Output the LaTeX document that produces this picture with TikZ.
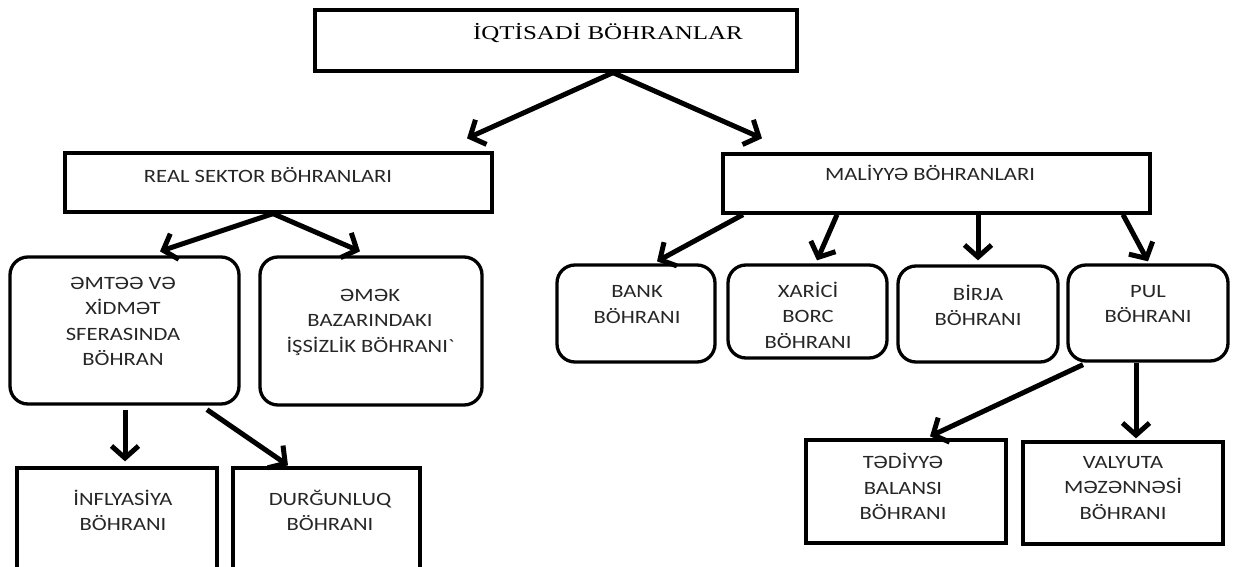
\documentclass[tikz,border=0pt]{standalone}
\usepackage{fontspec}
\setmainfont[FakeStretch=1.2]{Carlito}
\newfontfamily\titlefont[FakeStretch=1.28]{Liberation Serif}
\usetikzlibrary{arrows.meta}
\begin{document}
\begin{tikzpicture}[x=1pt,y=-1pt,
  box/.style={draw, line width=3.3pt, inner sep=0pt},
  rbox/.style={box, rounded corners=18pt},
  txt/.style={align=center, font=\fontsize{18.8}{25.5}\selectfont, inner sep=0pt, text=black!85},
  arr/.style={line width=5pt, -{Straight Barb[length=12pt,width=27pt]}}]
\useasboundingbox (0,0) rectangle (1233,567);
\clip (0,0) rectangle (1233,567);
% boxes
\node[box, minimum width=482pt, minimum height=61pt] (top) at (556,40.5) {};
\node[box, minimum width=427pt, minimum height=59pt] (real) at (278.5,182.5) {};
\node[box, minimum width=427pt, minimum height=59pt] (mal) at (936.5,183.5) {};
\node[rbox, minimum width=229pt, minimum height=147pt] (emtee) at (124.5,330.5) {};
\node[rbox, minimum width=222pt, minimum height=148pt] (emek) at (371,331) {};
\node[rbox, minimum width=158pt, minimum height=97pt] (bank) at (636,313.5) {};
\node[rbox, minimum width=159pt, minimum height=93pt] (xarici) at (807.5,311.5) {};
\node[rbox, minimum width=160pt, minimum height=96pt] (birja) at (978,314) {};
\node[rbox, minimum width=160pt, minimum height=96pt] (pul) at (1148,313) {};
\node[box, minimum width=200pt, minimum height=122pt] (infl) at (117,529) {};
\node[box, minimum width=187pt, minimum height=122pt] (durg) at (326.5,529) {};
\node[box, minimum width=200pt, minimum height=103pt] (ted) at (906,491.5) {};
\node[box, minimum width=200pt, minimum height=102pt] (val) at (1123,493) {};
% texts
\node[inner sep=0pt, font=\titlefont\fontsize{19.5}{22}\selectfont] (topt) at (608,33) {İQTİSADİ BÖHRANLAR};
\node[txt] (realt) at (268,175) {REAL SEKTOR BÖHRANLARI};
\node[txt] (malt) at (930,173) {MALİYYƏ BÖHRANLARI};
\node[txt] (emteet) at (123,321.5) {ƏMTƏƏ VƏ\\XİDMƏT\\SFERASINDA\\BÖHRAN};
\node[txt] (emekt) at (370,322) {ƏMƏK\\BAZARINDAKI\\İŞSİZLİK BÖHRANI\textasciigrave};
\node[txt] (bankt) at (637,304.5) {BANK\\BÖHRANI};
\node[txt] (xarit) at (808,315) {XARİCİ\\BORC\\BÖHRANI};
\node[txt] (birt) at (978,305.5) {BİRJA\\BÖHRANI};
\node[txt] (pult) at (1148,304) {PUL\\BÖHRANI};
\node[txt] (inflt) at (123,510.5) {İNFLYASİYA\\BÖHRANI};
\node[txt] (durgt) at (330,510.5) {DURĞUNLUQ\\BÖHRANI};
\node[txt] (tedt) at (903,486.5) {TƏDİYYƏ\\BALANSI\\BÖHRANI};
\node[txt] (valt) at (1123,488) {VALYUTA\\MƏZƏNNƏSİ\\BÖHRANI};
% arrows
\draw[arr] ([xshift=57pt]top.south) -- ([xshift=188.5pt,yshift=13pt]real.north);
\draw[arr] ([xshift=57pt]top.south) -- ([xshift=-174.5pt,yshift=14pt]mal.north);
\draw[arr] ([xshift=-5.5pt]real.south) -- ([xshift=35.5pt,yshift=4pt]emtee.north);
\draw[arr] ([xshift=-5.5pt]real.south) -- ([xshift=-11pt,yshift=4pt]emek.north);
\draw[arr] ([xshift=-193.5pt]mal.south) -- ([xshift=21pt,yshift=2pt]bank.north);
\draw[arr] ([xshift=-99.5pt]mal.south) -- ([xshift=9.5pt,yshift=3pt]xarici.north);
\draw[arr] ([xshift=41.5pt]mal.south) -- ([yshift=4pt]birja.north);
\draw[arr] ([xshift=186.5pt]mal.south) -- ([yshift=2pt]pul.north);
\draw[arr] ([xshift=0.5pt,yshift=-4pt]emtee.south) -- ([xshift=8pt,yshift=5pt]infl.north);
\draw[arr] ([xshift=82.5pt,yshift=-4pt]emtee.south) -- ([xshift=-38.5pt,yshift=1pt]durg.north);
\draw[arr] ([xshift=-65pt,yshift=-2pt]pul.south) -- ([xshift=24pt,yshift=2pt]ted.north);
\draw[arr] ([xshift=-12pt]pul.south) -- ([xshift=13pt,yshift=2pt]val.north);
\end{tikzpicture}
\end{document}
